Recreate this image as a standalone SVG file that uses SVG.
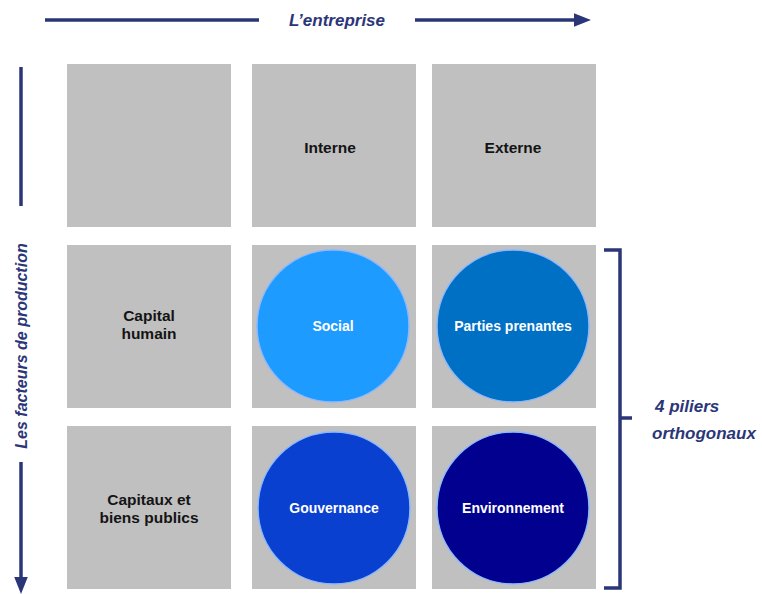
<svg xmlns="http://www.w3.org/2000/svg" width="762" height="594" viewBox="0 0 762 594">
<defs>
<style>
.cell{fill:#c0c0c0;}
.hdr{font-family:"Liberation Sans",Arial,sans-serif;font-weight:bold;font-size:15.5px;fill:#141414;text-anchor:middle;}
.lbl{font-family:"Liberation Sans",Arial,sans-serif;font-weight:bold;font-size:14px;fill:#ffffff;text-anchor:middle;}
.axis{font-family:"Liberation Sans",Arial,sans-serif;font-weight:bold;font-style:italic;fill:#2b3678;}
.ln{stroke:#2b3678;stroke-width:3.5;fill:none;}
.circ{stroke:#8ab8ff;stroke-width:1.5;}
</style>
<marker id="ah" markerWidth="5" markerHeight="4" refX="1" refY="2" orient="auto" markerUnits="strokeWidth">
<path d="M0,0 L5,2 L0,4 Z" fill="#2b3678"/>
</marker>
</defs>
<rect width="762" height="594" fill="#ffffff"/>
<g id="connectors">
<line class="ln" x1="45" y1="20" x2="259" y2="20"/>
<line class="ln" x1="415" y1="20" x2="577" y2="20" marker-end="url(#ah)"/>
<line class="ln" x1="21" y1="67" x2="21" y2="206"/>
<line class="ln" x1="21" y1="462" x2="21" y2="580" marker-end="url(#ah)"/>
<path class="ln" d="M604,250 H620 V588 H604 M620,418 H632" stroke-width="3"/>
</g>
<g id="axis-top"><text class="axis" x="337" y="26" font-size="17" text-anchor="middle">L’entreprise</text></g>
<g id="axis-left"><text class="axis" x="0" y="0" font-size="16" text-anchor="middle" transform="translate(27,346) rotate(-90)">Les facteurs de production</text></g>
<g id="pillars-label">
<text class="axis" x="655" y="412" font-size="17">4 piliers</text>
<text class="axis" x="652" y="439" font-size="17">orthogonaux</text>
</g>
<g id="cell-corner"><rect class="cell" x="67" y="64" width="164" height="163"/></g>
<g id="cell-interne"><rect class="cell" x="252" y="64" width="164" height="163"/><text class="hdr" x="330" y="153">Interne</text></g>
<g id="cell-externe"><rect class="cell" x="432" y="64" width="164" height="163"/><text class="hdr" x="513" y="153">Externe</text></g>
<g id="cell-capital-humain"><rect class="cell" x="67" y="245" width="164" height="163"/><text class="hdr" x="149" y="321">Capital</text><text class="hdr" x="149" y="339">humain</text></g>
<g id="cell-capitaux"><rect class="cell" x="67" y="426" width="164" height="163"/><text class="hdr" x="149" y="505">Capitaux et</text><text class="hdr" x="149" y="523">biens publics</text></g>
<g id="social"><rect class="cell" x="252" y="245" width="164" height="163"/><circle class="circ" cx="333" cy="326" r="76" fill="#1e9bff"/><text class="lbl" x="333" y="331">Social</text></g>
<g id="parties-prenantes"><rect class="cell" x="432" y="245" width="164" height="163"/><circle class="circ" cx="513" cy="326" r="76" fill="#0070c4"/><text class="lbl" x="513" y="331">Parties prenantes</text></g>
<g id="gouvernance"><rect class="cell" x="252" y="426" width="164" height="163"/><circle class="circ" cx="334" cy="508" r="76" fill="#0a40cf"/><text class="lbl" x="334" y="513">Gouvernance</text></g>
<g id="environnement"><rect class="cell" x="432" y="426" width="164" height="163"/><circle class="circ" cx="513" cy="508" r="76" fill="#02008e"/><text class="lbl" x="513" y="513">Environnement</text></g>
</svg>
